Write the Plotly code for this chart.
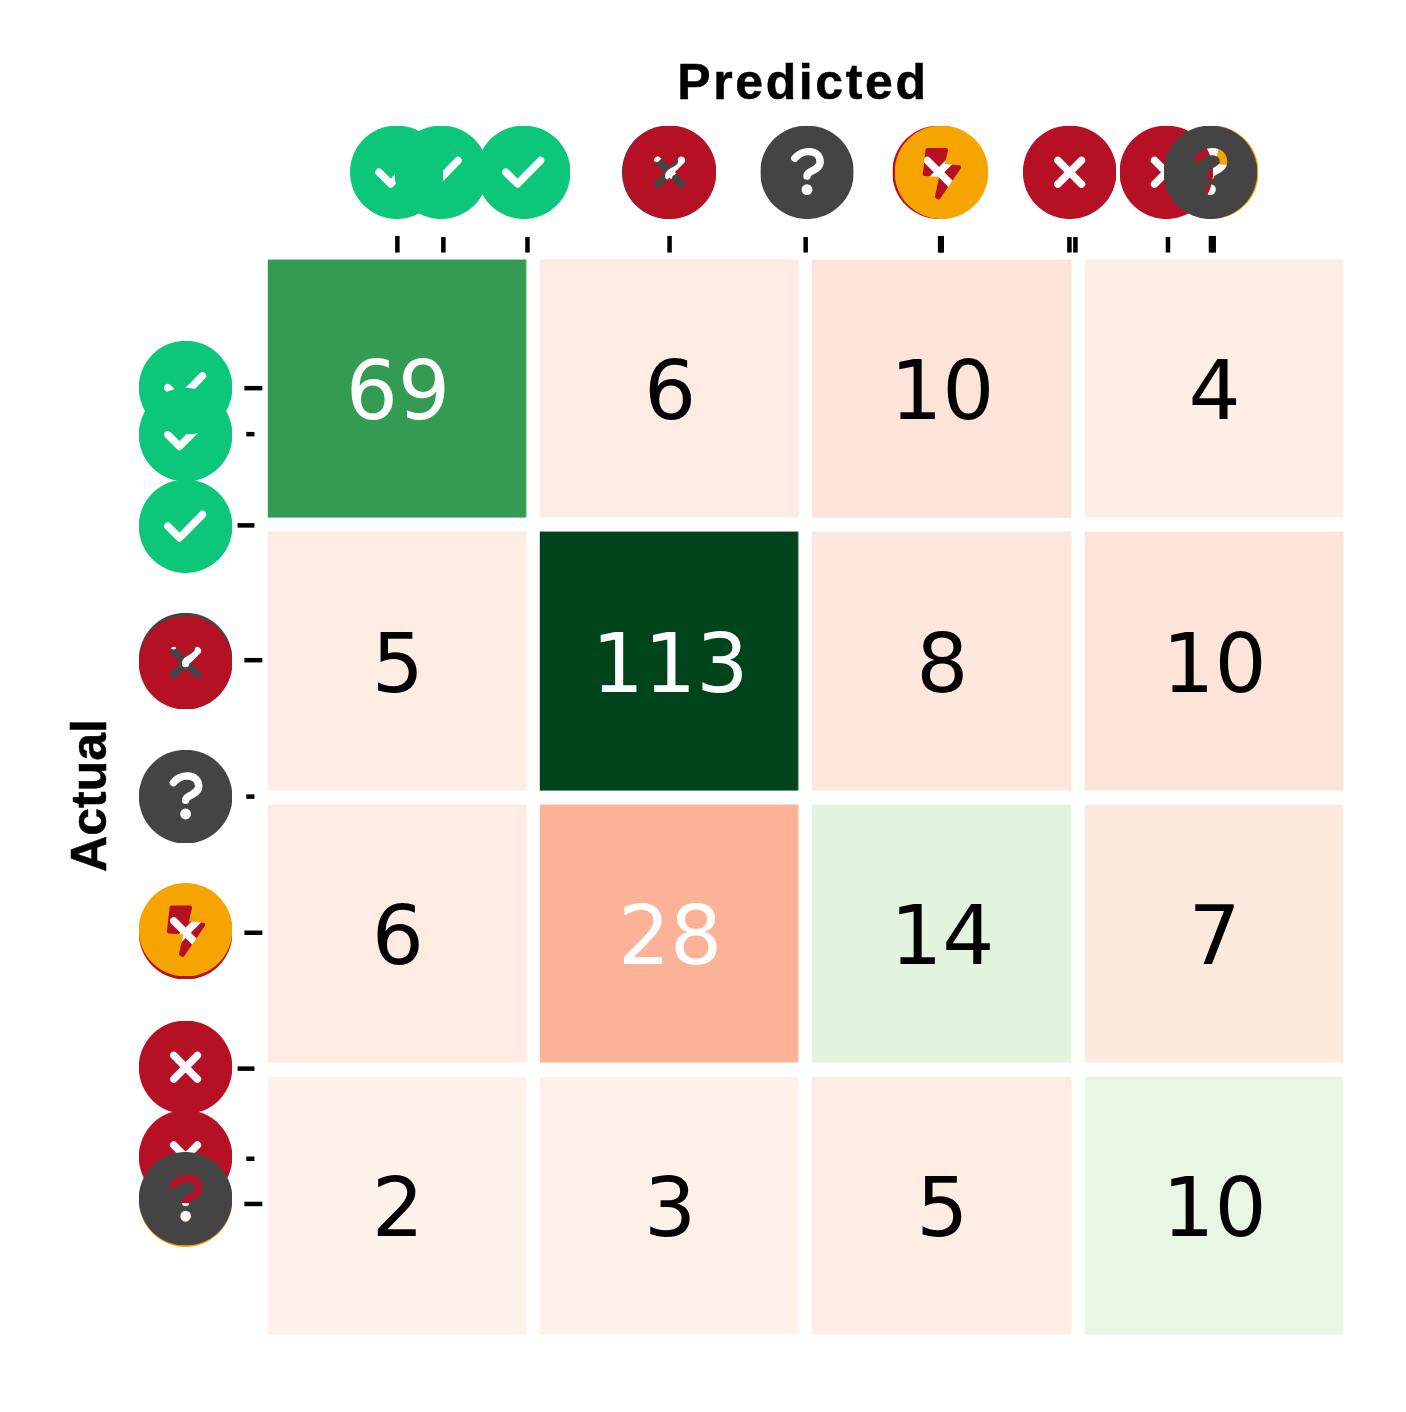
import base64
import plotly.graph_objects as go

# ---- data ----
categories = [0, 1, 2, 3]
actual_idx = [0, 1, 2, 3]
counts = [
    [69, 6, 10, 4],
    [5, 113, 8, 10],
    [6, 28, 14, 7],
    [2, 3, 5, 10],
]
text_colors = [
    ["white", "black", "black", "black"],
    ["black", "white", "black", "black"],
    ["black", "white", "black", "black"],
    ["black", "black", "black", "black"],
]
greens = ["#f7fcf5", "#e5f5e0", "#c7e9c0", "#a1d99b", "#74c476", "#41ab5d", "#238b45", "#006d2c", "#00441b"]
reds = ["#fff5f0", "#fee0d2", "#fcbba1", "#fc9272", "#fb6a4a", "#ef3b2c", "#cb181d", "#a50f15", "#67000d"]
z_max = 101

# tick positions along each axis (axis units) and their extents
x_ticks = [-0.002, 0.167, 0.476, 0.998, 1.498, 1.992, 1.998, 2.467, 2.489, 2.829, 2.987, 2.997]
x_tick_top = [-0.561, -0.557, -0.557, -0.561, -0.557, -0.561, -0.561, -0.557, -0.557, -0.557, -0.561, -0.561]
y_ticks = [-0.002, 0.167, 0.502, 0.997, 1.498, 1.998, 2.497, 2.828, 2.994]
y_tick_left = [-0.564, -0.557, -0.589, -0.564, -0.557, -0.564, -0.589, -0.557, -0.564]
y_tick_right = [-0.498, -0.527, -0.527, -0.498, -0.527, -0.498, -0.527, -0.527, -0.498]

# icon stacks, bottom first: (kind, position in axis units)
x_icon_row = -0.795
y_icon_col = -0.780
x_icons = [("ok", 0.462), ("ok", 0.159), ("ok", -0.004), ("unk", 0.995), ("bad", 0.998), ("unk", 1.503),
           ("bad", 1.988), ("warn", 1.997), ("bad", 2.468), ("warn", 2.990), ("bad", 2.823), ("unk", 2.985)]
y_icons = [("ok", 0.505), ("ok", 0.169), ("ok", -0.004), ("unk", 0.995), ("bad", 1.006), ("unk", 1.498),
           ("bad", 1.998), ("warn", 1.987), ("bad", 2.492), ("warn", 2.980), ("bad", 2.821), ("unk", 2.975)]

x_title = "Predicted"
y_title = "Actual"

# ---- icons ----
STROKE = 'fill="none" stroke="black" stroke-width="8" stroke-linecap="round" stroke-linejoin="round"'
glyphs = {
    "ok": f'<path d="M-19,0 L-6.5,12.5 L18,-12.5" {STROKE}/>',
    "bad": f'<path d="M-12.6,-12.6 L12.6,12.6 M12.6,-12.6 L-12.6,12.6" {STROKE}/>',
    "unk": f'<path d="M-13,-15 C-8,-21 -3,-22 2,-22 C10,-22 14,-17 14,-11 C14,-5 8,-3 3,0 C0,2 0,3 0,4" {STROKE}/>'
           '<circle cx="0" cy="18.6" r="5.8" fill="black"/>',
    "warn": '<path d="M-15,-24 L5,-24 L1,-7 L19,-5.5 L-3,27 L-5,26 L0,3 L-18,2 Z" fill="black" stroke="black" '
            'stroke-width="4" stroke-linejoin="round"/>',
}
fills = {"ok": "#0cc779", "bad": "#b51023", "unk": "#444444", "warn": "#f6a500"}


def icon_uri(kind):
    svg = (
        '<svg xmlns="http://www.w3.org/2000/svg" width="200" height="200" viewBox="-50 -50 100 100">'
        '<defs><mask id="m" maskUnits="userSpaceOnUse" x="-50" y="-50" width="100" height="100">'
        '<rect x="-50" y="-50" width="100" height="100" fill="white"/>'
        f'{glyphs[kind]}</mask></defs>'
        f'<circle cx="0" cy="0" r="50" fill="{fills[kind]}" mask="url(#m)"/></svg>'
    )
    return "data:image/svg+xml;base64," + base64.b64encode(svg.encode()).decode()


def scale(colors):
    return [[i / (len(colors) - 1), c] for i, c in enumerate(colors)]


n = len(categories)
z_diag = [[counts[r][c] if r == c else None for c in range(n)] for r in range(n)]
z_off = [[counts[r][c] if r != c else None for c in range(n)] for r in range(n)]

fig = go.Figure()
for z, cs in ((z_off, reds), (z_diag, greens)):
    fig.add_trace(go.Heatmap(z=z, x=categories, y=actual_idx, colorscale=scale(cs), zmin=0, zmax=z_max,
                             xgap=13.5, ygap=14, showscale=False, hoverongaps=False))

TEXT_DY = 0.037
fig.add_trace(go.Scatter(
    x=[c for r in actual_idx for c in categories],
    y=[r + TEXT_DY for r in actual_idx for c in categories],
    text=[str(counts[r][c]) for r in actual_idx for c in categories],
    mode="text", hoverinfo="skip",
    textfont=dict(family="DejaVu Sans", size=82,
                  color=[text_colors[r][c] for r in actual_idx for c in categories]),
))

tx, ty = [], []
for p, top in zip(x_ticks, x_tick_top):
    tx += [p, p, None]
    ty += [top, -0.5, None]
fig.add_trace(go.Scatter(x=tx, y=ty, mode="lines", hoverinfo="skip", line=dict(color="black", width=4.5)))
tx, ty = [], []
for p, left, right in zip(y_ticks, y_tick_left, y_tick_right):
    tx += [left, right, None]
    ty += [p, p, None]
fig.add_trace(go.Scatter(x=tx, y=ty, mode="lines", hoverinfo="skip", line=dict(color="black", width=4.5)))

ICON_SIZE = 0.344
images = []
for kind, pos in x_icons:
    images.append(dict(source=icon_uri(kind), xref="x", yref="y", x=pos, y=x_icon_row, sizex=ICON_SIZE,
                       sizey=ICON_SIZE, xanchor="center", yanchor="middle", sizing="stretch", layer="above"))
for kind, pos in y_icons:
    images.append(dict(source=icon_uri(kind), xref="x", yref="y", x=y_icon_col, y=pos, sizex=ICON_SIZE,
                       sizey=ICON_SIZE, xanchor="center", yanchor="middle", sizing="stretch", layer="above"))

fig.update_layout(
    width=1406, height=1412, showlegend=False,
    paper_bgcolor="white", plot_bgcolor="white",
    margin=dict(l=0, r=0, t=0, b=0, pad=0),
    images=images,
    xaxis=dict(range=[-1.4618, 3.7035], visible=False, fixedrange=True),
    yaxis=dict(range=[3.7580, -1.4275], visible=False, fixedrange=True),
    annotations=[
        dict(text=f"<b>{x_title}</b>", xref="x", yref="y", x=1.488, y=-1.126, showarrow=False,
             xanchor="center", yanchor="middle",
             font=dict(family="Liberation Sans", size=50, color="black")),
        dict(text=f"<b>{y_title}</b>", xref="x", yref="y", x=-1.137, y=1.494, showarrow=False, textangle=-90,
             xanchor="center", yanchor="middle",
             font=dict(family="Liberation Sans", size=50, color="black")),
    ],
)

post = """
document.body.style.margin = '0';
document.querySelectorAll('.annotation text').forEach(function (t) {
  t.style.stroke = 'black';
  t.style.strokeWidth = '0.5px';
  if (t.textContent === 'Predicted') { t.style.letterSpacing = '2.6px'; }
});
"""
fig.write_html("out.html", post_script=post, config={"displayModeBar": False})
